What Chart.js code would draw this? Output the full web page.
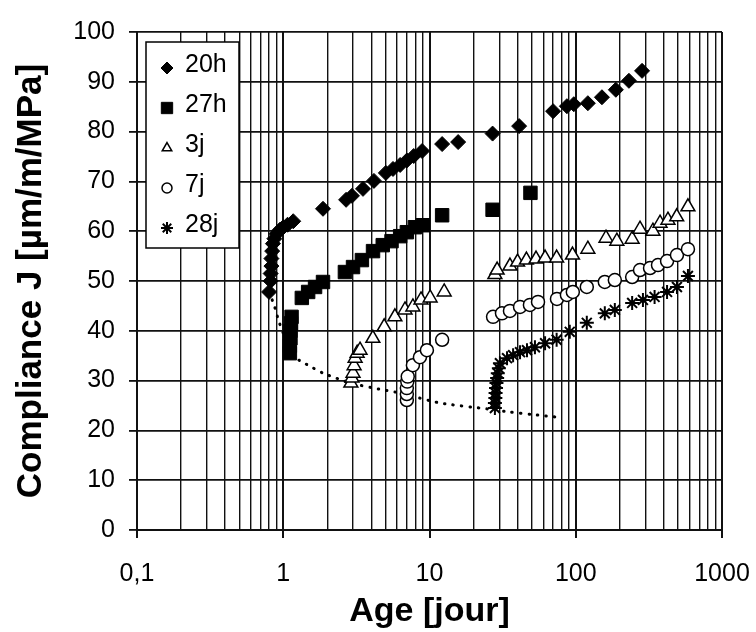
<!DOCTYPE html>
<html>
<head>
<meta charset="utf-8">
<script src="https://cdn.jsdelivr.net/npm/chart.js@4.4.1/dist/chart.umd.min.js"></script>
<style>
  body { margin: 0; background: #fff; }
  #wrap { width: 756px; height: 632px; }
</style>
</head>
<body>
<div id="wrap"><canvas id="compliance" width="756" height="632"></canvas></div>
<script>
// age at time t [days] and compliance J [µm/m/MPa], one pair of arrays per loading age
const age20h = [0.80, 0.82, 0.82, 0.83, 0.83, 0.84, 0.85, 0.87, 0.90, 0.95, 1.0, 1.07, 1.17, 1.87, 2.69, 2.95, 3.51, 4.17, 5.03, 5.63, 6.3, 7.0, 7.8, 8.9, 12.2, 15.7, 27, 41, 70, 87, 97, 121, 151, 188, 231, 284];
const j20h = [47.8, 50, 51.5, 53, 54.5, 56, 57.5, 58.5, 59.5, 60.3, 60.8, 61.3, 62, 64.5, 66.3, 67.1, 68.5, 70.1, 71.7, 72.5, 73.3, 74.2, 75.1, 76.1, 77.5, 77.9, 79.6, 81.1, 84.1, 85.1, 85.5, 85.7, 86.9, 88.4, 90.2, 92.2];

const age27h = [1.11, 1.11, 1.12, 1.12, 1.13, 1.14, 1.34, 1.48, 1.65, 1.87, 2.64, 3.0, 3.45, 4.11, 4.79, 5.5, 6.3, 7.0, 7.95, 9.0, 12.2, 27, 49];
const j27h = [35.5, 37, 38.5, 40, 41.5, 42.8, 46.6, 47.8, 48.8, 49.8, 51.8, 52.8, 54.2, 56, 57.2, 58, 59, 59.8, 60.8, 61.2, 63.2, 64.3, 67.7];

const age3j = [2.9, 2.95, 3.0, 3.05, 3.1, 3.2, 3.35, 4.1, 4.9, 5.8, 6.8, 7.7, 8.75, 10.1, 12.6, 28, 29, 35.5, 40, 46, 53.5, 61.7, 74, 95, 121, 161, 191, 243, 275, 337, 377, 427, 490, 585];
const j3j = [29.5, 30.5, 31.5, 33, 34.5, 35.5, 36.1, 38.5, 40.8, 42.8, 44.2, 44.8, 46.2, 46.6, 47.8, 51.3, 52.2, 53, 53.8, 54.2, 54.4, 54.6, 54.6, 55.2, 56.4, 58.6, 58, 58.4, 60.4, 60, 61.6, 62.2, 62.9, 64.9];

const age7j = [7.0, 7.0, 7.0, 7.05, 7.1, 7.7, 8.6, 9.6, 12.2, 27.2, 31.3, 35.5, 41.6, 48.6, 55.2, 74.4, 87, 95.5, 119, 158, 185, 243, 275, 322, 365, 421, 492, 585];
const j7j = [26.1, 27.3, 28.5, 29.8, 30.8, 33.1, 34.7, 36.1, 38.2, 42.8, 43.5, 44, 44.8, 45.2, 45.8, 46.4, 47.2, 47.8, 48.8, 49.8, 50.2, 50.8, 52.2, 52.6, 53.2, 54, 55.2, 56.4];

const age28j = [28, 28, 28.2, 28.3, 28.5, 28.7, 29, 29.3, 29.8, 30.3, 33.9, 37.3, 41.6, 46.4, 52.6, 61.7, 74, 91, 119, 158, 185, 243, 288, 346, 421, 492, 585];
const j28j = [24.5, 25.5, 26.5, 27.5, 28.5, 29.5, 30.5, 31.5, 32.5, 33.5, 34.5, 35.1, 35.7, 36.1, 36.7, 37.5, 38.2, 39.8, 41.6, 43.5, 44.2, 45.6, 46.2, 46.8, 47.8, 48.8, 51];

// dotted curve: compliance right after loading
const ageLoad = [0.8, 0.87, 0.93, 1.0, 1.13, 1.3, 1.5, 1.87, 2.9, 4.5, 6.3, 11.8, 25, 35, 50, 78];
const jLoad = [47.8, 45, 42, 39.5, 35, 34, 33, 31.5, 29.5, 28.3, 27.5, 25.5, 24.3, 23.7, 23.2, 22.6];

const xDecades = [0.1, 1, 10, 100, 1000];
const xTickLabels = ["0,1", "1", "10", "100", "1000"];
const xMultiples = [1, 2, 3, 4, 5, 6, 7, 8, 9];

const pts = (xs, ys) => xs.map((x, i) => ({ x: x, y: ys[i] }));

const xTicks = [];
xDecades.slice(0, -1).forEach((d) => xMultiples.forEach((m) => xTicks.push(+(d * m).toPrecision(3))));
xTicks.push(1000);

const isDecade = (v) => xDecades.some((d) => Math.abs(d - v) < 1e-9);

Chart.defaults.font.family = "'Liberation Sans', Arial, sans-serif";
Chart.defaults.color = "#000";

// legend drawn as a white box inside the plot, like the original
const legendBox = {
  id: "legendBox",
  afterDatasetsDraw(chart) {
    const { ctx, chartArea } = chart;
    const left = chartArea.left + 9;
    const top = chartArea.top + 10;
    ctx.save();
    ctx.fillStyle = "#fff";
    ctx.fillRect(left, top, 93, 206);
    ctx.strokeStyle = "#000";
    ctx.lineWidth = 1.5;
    ctx.strokeRect(left, top, 93, 206);
    ctx.font = "25px 'Liberation Sans', Arial, sans-serif";
    ctx.textBaseline = "middle";
    chart.data.datasets
      .filter((ds) => ds.label)
      .forEach((ds, i) => {
        const y = top + 23 + i * 40;
        ctx.fillStyle = ds.backgroundColor;
        ctx.strokeStyle = ds.borderColor;
        ctx.lineWidth = ds.borderWidth;
        Chart.helpers.drawPoint(
          ctx,
          { pointStyle: ds.pointStyle, radius: ds.legendRadius, rotation: 0, borderWidth: ds.borderWidth },
          left + 21,
          y + 3
        );
        ctx.fillStyle = "#000";
        ctx.fillText(ds.label, left + 39, y);
      });
    ctx.restore();
  },
};

const ctx = document.getElementById("compliance");
const chart = new Chart(ctx, {
  type: "scatter",
  data: {
    datasets: [
      { label: "20h", data: pts(age20h, j20h), pointStyle: "rectRot", pointRadius: 7.5, legendRadius: 6,
        backgroundColor: "#000", borderColor: "#000", borderWidth: 1 },
      { label: "27h", data: pts(age27h, j27h), pointStyle: "rect", pointRadius: 9.5, legendRadius: 8,
        backgroundColor: "#000", borderColor: "#000", borderWidth: 1 },
      { label: "3j", data: pts(age3j, j3j), pointStyle: "triangle", pointRadius: 8, legendRadius: 5.5,
        backgroundColor: "#fff", borderColor: "#000", borderWidth: 1.5 },
      { label: "7j", data: pts(age7j, j7j), pointStyle: "circle", pointRadius: 6.5, legendRadius: 5,
        backgroundColor: "#fff", borderColor: "#000", borderWidth: 1.5 },
      { label: "28j", data: pts(age28j, j28j), pointStyle: "star", pointRadius: 7, legendRadius: 6,
        backgroundColor: "#000", borderColor: "#000", borderWidth: 2 },
      { data: pts(ageLoad, jLoad), showLine: true, pointRadius: 0, borderColor: "#000",
        borderWidth: 3, borderDash: [0.5, 8], borderCapStyle: "round", tension: 0.2, order: 10 },
    ],
  },
  options: {
    responsive: false,
    animation: false,
    events: [],
    layout: { padding: { top: 32, right: 34, left: 0, bottom: 0 } },
    plugins: { legend: { display: false }, tooltip: { enabled: false } },
    scales: {
      x: {
        type: "logarithmic",
        min: 0.1,
        max: 1000,
        afterBuildTicks: (scale) => {
          scale.ticks = xTicks.map((v) => ({ value: v, major: isDecade(v) }));
        },
        afterFit: (scale) => {
          scale.height = 102;
          scale.paddingLeft = 0;
          scale.paddingRight = 0;
        },
        ticks: {
          autoSkip: false,
          maxRotation: 0,
          padding: 21,
          font: { size: 25 },
          callback: (v) => {
            const k = xDecades.findIndex((d) => Math.abs(d - v) < 1e-9);
            return k >= 0 ? xTickLabels[k] : "";
          },
        },
        grid: {
          color: "#111",
          lineWidth: (c) => (c.tick && isDecade(c.tick.value) ? 2 : 1.4),
          tickColor: (c) => (c.tick && isDecade(c.tick.value) ? "#111" : "rgba(0,0,0,0)"),
          tickLength: 8,
        },
        border: { color: "#111", width: 2 },
        title: {
          display: true,
          text: "Age [jour]",
          font: { size: 34, weight: "bold" },
          padding: { top: 0, bottom: 0 },
        },
      },
      y: {
        min: 0,
        max: 100,
        afterFit: (scale) => {
          scale.width = 137;
        },
        ticks: { stepSize: 10, padding: 14, font: { size: 25 } },
        grid: { color: "#111", lineWidth: 1.8, tickLength: 8 },
        border: { color: "#111", width: 2 },
        title: {
          display: true,
          text: "Compliance J [µm/m/MPa]",
          font: { size: 35, weight: "bold" },
          padding: { top: 10, bottom: 0 },
        },
      },
    },
  },
  plugins: [legendBox],
});
</script>
</body>
</html>
